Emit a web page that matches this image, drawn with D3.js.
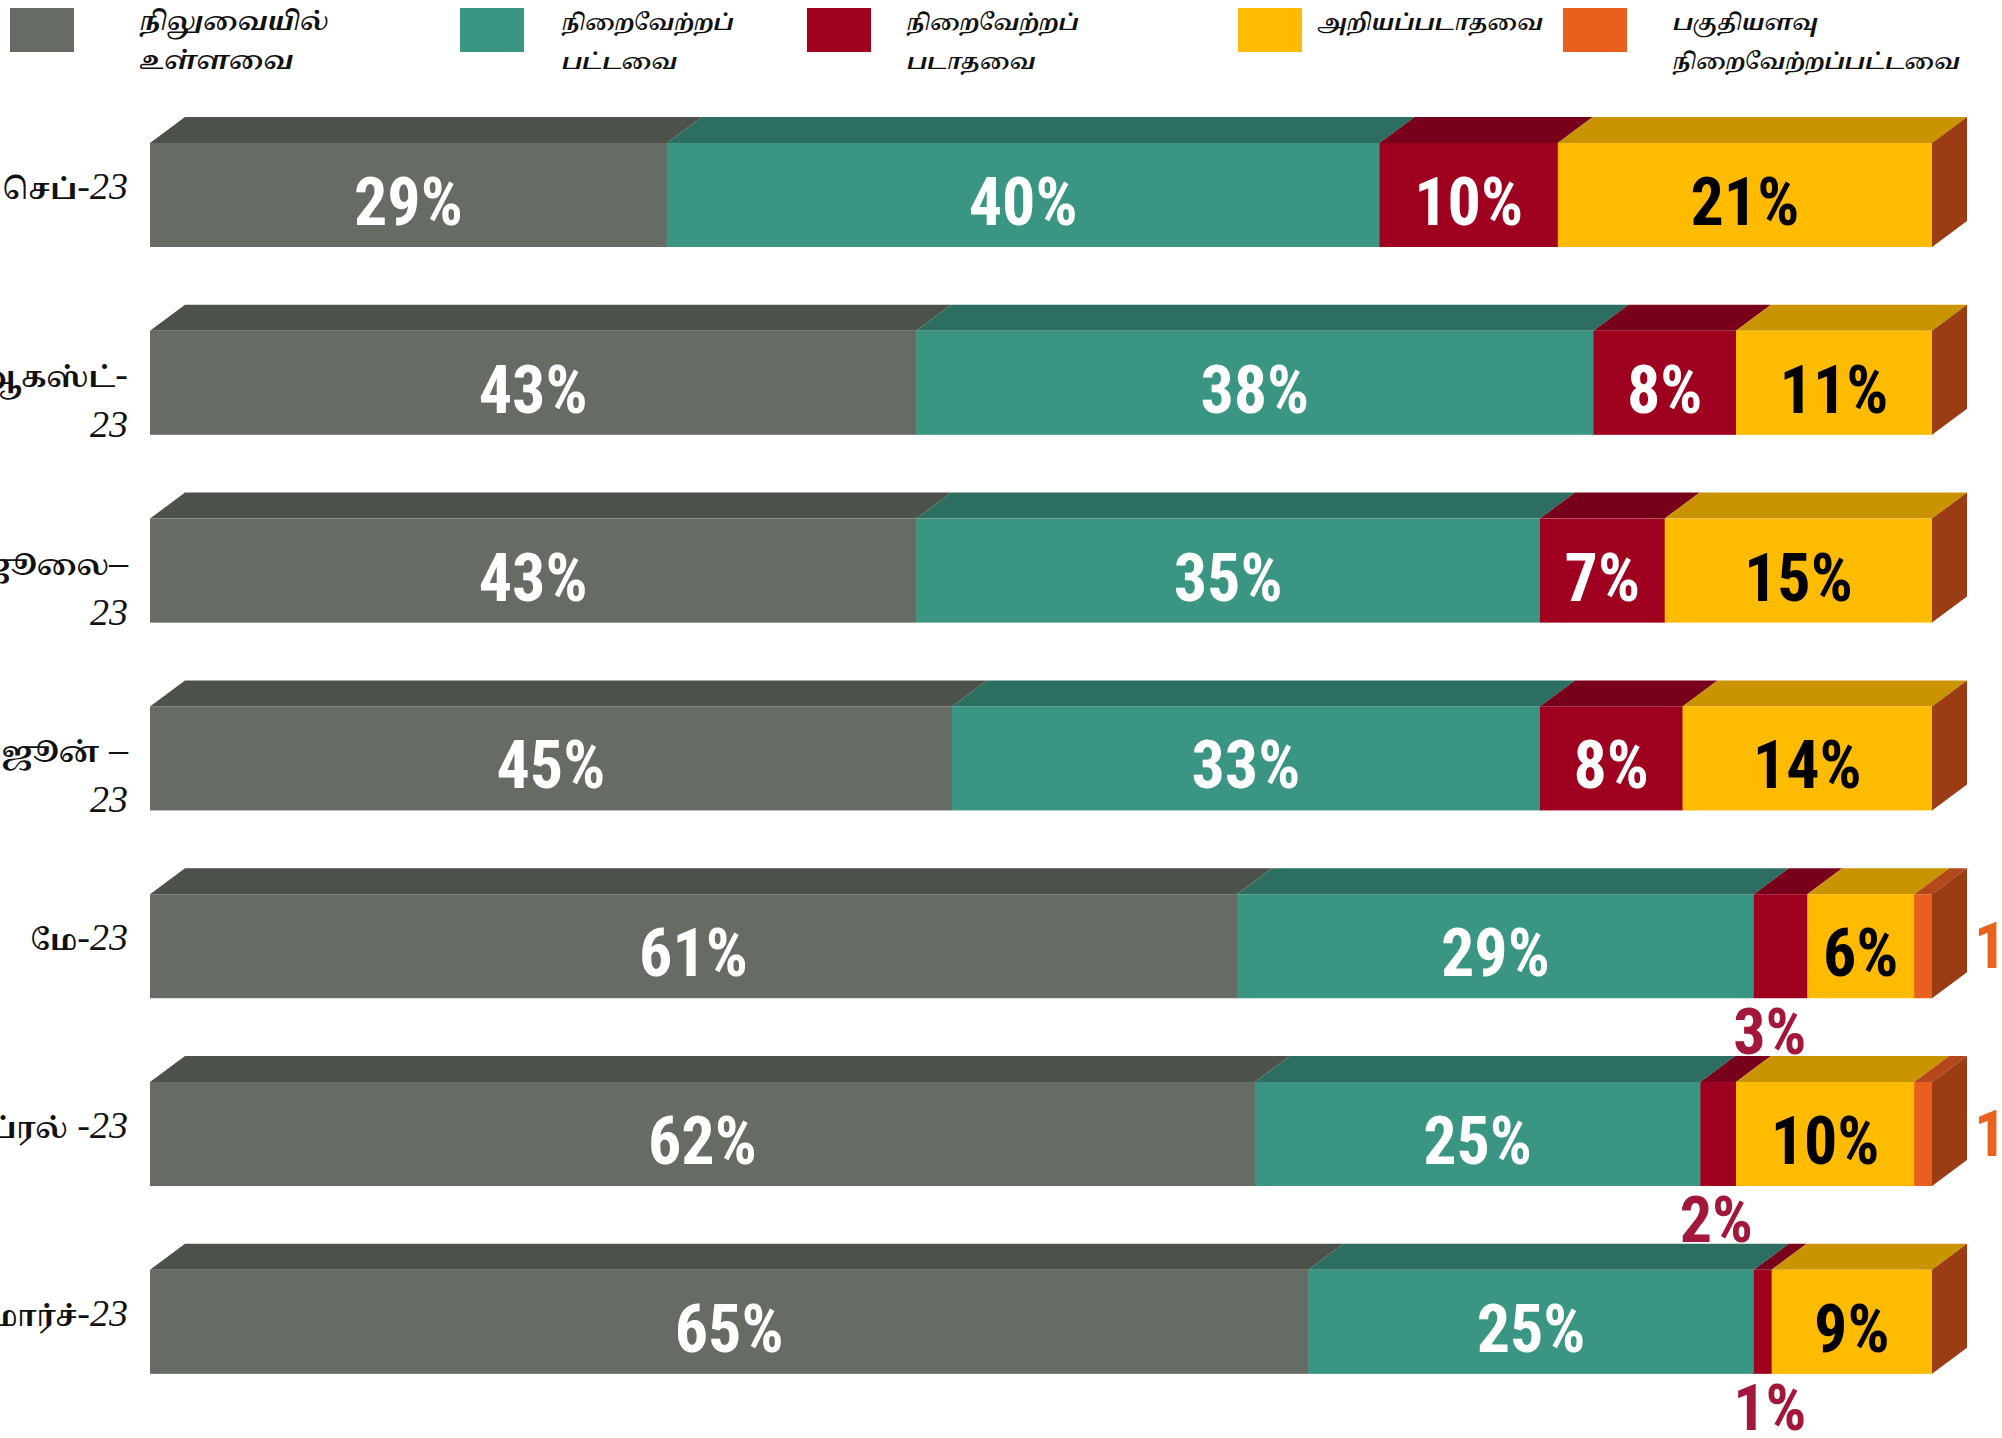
<!DOCTYPE html>
<html><head><meta charset="utf-8">
<script src="https://cdn.jsdelivr.net/npm/d3@7"></script>
<style>
html,body{margin:0;padding:0;background:#fff;}
svg{display:block;}
</style></head>
<body>
<svg id="chart" width="2002" height="1438"></svg>
<script>
// ---- data ----
const categories = ["செப்-23", "ஆகஸ்ட்-\n23", "ஜூலை–\n23", "ஜூன் –\n23", "மே-23", "ஏப்ரல் -23", "மார்ச்-23"];
const seriesKeys = ["pending", "fulfilled", "notFulfilled", "unknown", "partial"];
const seriesNames = ["நிலுவையில்\nஉள்ளவை", "நிறைவேற்றப்\nபட்டவை", "நிறைவேற்றப்\nபடாதவை", "அறியப்படாதவை", "பகுதியளவு\nநிறைவேற்றப்பட்டவை"];
const pending      = [29, 43, 43, 45, 61, 62, 65];
const fulfilled    = [40, 38, 35, 33, 29, 25, 25];
const notFulfilled = [10,  8,  7,  8,  3,  2,  1];
const unknown      = [21, 11, 15, 14,  6, 10,  9];
const partial      = [ 0,  0,  0,  0,  1,  1,  0];

// ---- styles ----
const frontColors = ["#666c63", "#3a9582", "#a0001f", "#ffbb00", "#e85f1e"];
const topColors   = ["#4c5149", "#2c6e60", "#78001a", "#c99400", "#b5481a"];
const sideColor = "#9a3c14";
const labelColors = ["#ffffff", "#ffffff", "#ffffff", "#000000", "#ffffff"];
const outsideColors = ["#666c63", "#3a9582", "#a3183a", "#c99400", "#e8641e"];

const values = {pending, fulfilled, notFulfilled, unknown, partial};
const rows = categories.map((c, i) => {
  const r = {cat: c};
  seriesKeys.forEach(k => r[k] = values[k][i]);
  return r;
});

const svg = d3.select("#chart");
svg.append("rect").attr("width", 2002).attr("height", 1438).attr("fill", "#fff");

const depthX = 35, depthY = 26, frontH = 104;
const x = d3.scaleLinear().domain([0, 100]).range([150, 1932]);
const y = d3.scaleBand().domain(categories).range([117, 1373.8]).paddingInner(0.308).paddingOuter(0);

const stack = d3.stack().keys(seriesKeys);
const stacked = stack(rows);

const numFont = "'Liberation Sans Narrow','Roboto Condensed','DejaVu Sans Condensed',sans-serif";
const tamilFont = "'Latha','Noto Serif Tamil','Noto Sans Tamil','Lohit Tamil','Liberation Serif',serif";

// bars
stacked.forEach((layer, si) => {
  const g = svg.append("g").attr("class", "series-" + seriesKeys[si]);
  layer.forEach((d, ci) => {
    const v = d[1] - d[0];
    if (v <= 0) return;
    const x0 = x(d[0]), x1 = x(d[1]);
    const yt = y(d.data.cat);
    const yf = yt + depthY;
    g.append("path")
      .attr("d", `M${x0},${yf}L${x0 + depthX},${yt}L${x1 + depthX},${yt}L${x1},${yf}Z`)
      .attr("fill", topColors[si]);
    g.append("rect")
      .attr("x", x0).attr("y", yf)
      .attr("width", x1 - x0 + 0.5).attr("height", frontH)
      .attr("fill", frontColors[si]);
  });
});

// right side faces
rows.forEach(r => {
  const yt = y(r.cat), yf = yt + depthY;
  const xe = x(100);
  svg.append("path")
    .attr("d", `M${xe},${yf}L${xe + depthX},${yt}L${xe + depthX},${yt + frontH}L${xe},${yf + frontH}Z`)
    .attr("fill", sideColor);
});

// value labels
stacked.forEach((layer, si) => {
  layer.forEach(d => {
    const v = d[1] - d[0];
    if (v <= 0) return;
    const x0 = x(d[0]), x1 = x(d[1]);
    const yf = y(d.data.cat) + depthY;
    const t = svg.append("text")
      .attr("font-family", numFont)
      .attr("font-weight", "bold")
      .text(v + "%");
    if (v >= 5) {
      t.attr("x", (x0 + x1) / 2).attr("y", yf + 82)
        .attr("text-anchor", "middle").attr("font-size", 66)
        .attr("fill", labelColors[si]);
    } else if (si === 4) {
      t.attr("x", x(100) + 42).attr("y", yf + 74)
        .attr("text-anchor", "start").attr("font-size", 64)
        .attr("fill", outsideColors[si]);
    } else {
      t.attr("x", x0 + 16).attr("y", yf + frontH + 56)
        .attr("text-anchor", "middle").attr("font-size", 64)
        .attr("fill", outsideColors[si]);
    }
  });
});

// category labels
function addMixed(textSel, str) {
  const parts = str.match(/[\u0B80-\u0BFF]+|[^\u0B80-\u0BFF]+/g) || [];
  parts.forEach(p => {
    const isTamil = /[\u0B80-\u0BFF]/.test(p);
    textSel.append("tspan")
      .attr("font-family", isTamil ? tamilFont : "'Liberation Serif','Times New Roman',serif")
      .attr("font-style", isTamil ? "normal" : "italic")
      .attr("font-weight", isTamil ? "bold" : "normal")
      .attr("font-size", isTamil ? 28 : 38)
      .text(p);
  });
}
categories.forEach(c => {
  const yf = y(c) + depthY;
  const lines = c.split("\n");
  lines.forEach((ln, li) => {
    const baseY = lines.length === 1 ? yf + 56 : yf + 56 + li * 50;
    const t = svg.append("text")
      .attr("x", 128).attr("y", baseY)
      .attr("text-anchor", "end")
      .attr("fill", "#111");
    addMixed(t, ln);
  });
});

// legend
const legendX = [10, 460, 807, 1238, 1563];
const legendTextX = [140, 562, 907, 1318, 1673];
seriesNames.forEach((name, i) => {
  svg.append("rect")
    .attr("x", legendX[i]).attr("y", 8)
    .attr("width", 64).attr("height", 44)
    .attr("fill", frontColors[i]);
  const lines = name.split("\n");
  const fs = i === 0 ? 25 : 21.5;
  lines.forEach((ln, li) => {
    svg.append("text")
      .attr("x", legendTextX[i]).attr("y", 30 + li * 39)
      .attr("font-family", tamilFont)
      .attr("font-style", "italic")
      .attr("font-weight", "bold")
      .attr("font-size", fs)
      .attr("fill", "#111")
      .text(ln);
  });
});
</script>
</body></html>
